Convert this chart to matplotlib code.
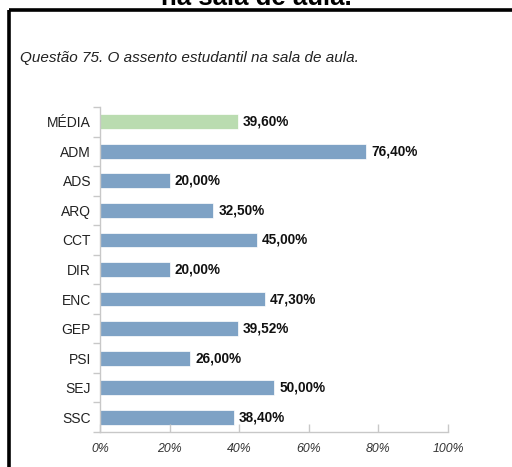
import matplotlib.pyplot as plt
from matplotlib.lines import Line2D

plt.rcParams['font.family'] = ['Liberation Sans', 'DejaVu Sans']

cursos = ['MÉDIA', 'ADM', 'ADS', 'ARQ', 'CCT', 'DIR', 'ENC', 'GEP', 'PSI', 'SEJ', 'SSC']
valores = [39.60, 76.40, 20.00, 32.50, 45.00, 20.00, 47.30, 39.52, 26.00, 50.00, 38.40]
x_ticks = [0, 20, 40, 60, 80, 100]

azul = '#7ea2c5'
verde = '#badcb0'
cinza = '#c8c8c8'

fig = plt.figure(figsize=(5.12, 4.67), dpi=100)

# titulo da secao (cortado no topo)
fig.text(0.5, 1 - 5 / 467, 'na sala de aula.', ha='center', va='baseline',
         fontsize=18.5, fontweight='bold')

# moldura: linha de cima e linha da esquerda
fig.add_artist(Line2D([9 / 512, 1], [1 - 10 / 467] * 2, color='black', lw=2.6,
                      transform=fig.transFigure, solid_capstyle='butt'))
fig.add_artist(Line2D([9 / 512] * 2, [0, 1 - 10 / 467], color='black', lw=2.6,
                      transform=fig.transFigure, solid_capstyle='butt'))

fig.text(20 / 512, 1 - 58 / 467, 'Questão 75. O assento estudantil na sala de aula.',
         ha='left', va='center', fontsize=11, style='italic', color='#222222')

ax = fig.add_axes([100 / 512, 35 / 467, 348 / 512, 325 / 467])
pos = list(range(len(cursos)))
cores = [verde] + [azul] * (len(cursos) - 1)
ax.barh(pos, valores, height=0.5, color=cores, edgecolor='white', linewidth=0.5)

for y, v in zip(pos, valores):
    ax.text(v + 1.5, y, f'{v:.2f}%'.replace('.', ','), va='center', ha='left',
            fontsize=9.8, fontweight='bold', color='#111111')

ax.set_xlim(0, 100)
ax.set_ylim(len(cursos) - 0.5, -0.5)
ax.set_yticks(pos)
ax.set_yticklabels(cursos, fontsize=10, color='#222222')
ax.set_yticks([p + 0.5 for p in range(-1, len(cursos))], minor=True)
ax.tick_params(axis='y', which='major', length=0, pad=6.5)
ax.tick_params(axis='y', which='minor', length=5, width=1, color=cinza, direction='out')

ax.set_xticks(x_ticks)
ax.set_xticklabels([f'{t}%' for t in x_ticks], fontsize=8.8, style='italic', color='#333333')
ax.tick_params(axis='x', length=6, width=1, color=cinza, direction='in', pad=8)

for lado in ['top', 'right']:
    ax.spines[lado].set_visible(False)
for lado in ['left', 'bottom']:
    ax.spines[lado].set_color(cinza)
    ax.spines[lado].set_linewidth(1)

fig.savefig('out.png', dpi=100)
